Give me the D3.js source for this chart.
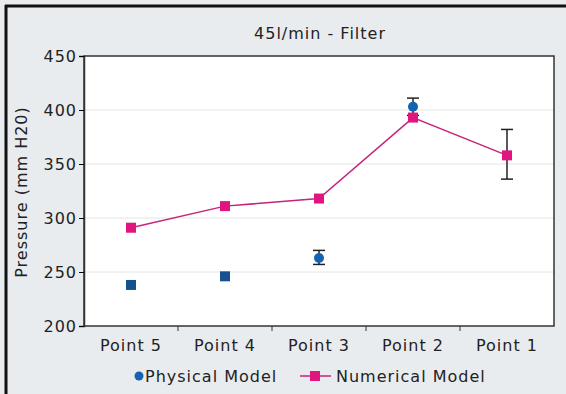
<!DOCTYPE html>
<html>
<head>
<meta charset="utf-8">
<script src="https://cdn.jsdelivr.net/npm/d3@7"></script>
<style>
  body { margin: 0; background: #e9ecef; }
  svg { display: block; font-family: "DejaVu Sans", sans-serif; }
  .lbl { font-size: 16px; fill: #222; letter-spacing: 1px; }
</style>
</head>
<body>
<svg id="chart" width="566" height="394"></svg>
<script>
// chart data
var categories = ["Point 5", "Point 4", "Point 3", "Point 2", "Point 1"];
var numerical = [291, 311, 318, 393, 358];
var numericalErr = [null, null, null, null, [336, 382]];
var physical = [238, 246, 263, 403, null];
var physicalErr = [null, null, [257, 270], [395, 411], null];
var yTicks = [200, 250, 300, 350, 400, 450];

var margin = {top: 56, right: 12, bottom: 68, left: 84},
    width = 566 - margin.left - margin.right,
    height = 394 - margin.top - margin.bottom;

var svg = d3.select("#chart");

// outer frame (top + left only, image looks cropped)
svg.append("line").attr("x1", 5).attr("x2", 566).attr("y1", 6).attr("y2", 6)
  .attr("stroke", "#111").attr("stroke-width", 3);
svg.append("line").attr("x1", 6).attr("x2", 6).attr("y1", 5).attr("y2", 394)
  .attr("stroke", "#111").attr("stroke-width", 3);

svg.append("text")
  .attr("class", "lbl")
  .attr("x", 320).attr("y", 39)
  .attr("text-anchor", "middle")
  .text("45l/min - Filter");

var g = svg.append("g")
  .attr("transform", "translate(" + margin.left + "," + margin.top + ")");

var x = d3.scaleBand().domain(categories).range([0, width]);
var y = d3.scaleLinear().domain([200, 450]).range([height, 0]);

g.append("rect").attr("width", width).attr("height", height).attr("fill", "#fff");

// grid
g.selectAll(".grid").data(yTicks.slice(1, -1)).enter().append("line")
  .attr("x1", 0).attr("x2", width)
  .attr("y1", function(d) { return y(d); }).attr("y2", function(d) { return y(d); })
  .attr("stroke", "#e4e4e4").attr("stroke-width", 1);

g.append("rect").attr("width", width).attr("height", height)
  .attr("fill", "none").attr("stroke", "#333").attr("stroke-width", 1.5);

// axes
var yAxis = g.append("g").call(d3.axisLeft(y).tickValues(yTicks).tickSize(5).tickPadding(2));
yAxis.select(".domain").attr("stroke", "#333").attr("stroke-width", 1.5);
yAxis.selectAll("text").attr("class", "lbl").attr("font-size", null).attr("font-family", null);

var xAxis = g.append("g")
  .attr("transform", "translate(0," + height + ")")
  .call(d3.axisBottom(x).tickSize(0).tickPadding(14));
xAxis.select(".domain").remove();
xAxis.selectAll("text").attr("class", "lbl");
xAxis.attr("font-size", null).attr("font-family", null);
yAxis.attr("font-size", null).attr("font-family", null);
// ticks between categories
g.selectAll(".sep").data(categories.slice(1)).enter().append("line")
  .attr("x1", function(d) { return x(d); }).attr("x2", function(d) { return x(d); })
  .attr("y1", height).attr("y2", height + 5)
  .attr("stroke", "#333");

svg.append("text")
  .attr("class", "lbl")
  .attr("transform", "translate(27," + 192 + ") rotate(-90)")
  .attr("text-anchor", "middle")
  .text("Pressure (mm H20)");

function cx(i) { return x(categories[i]) + x.bandwidth() / 2; }

function errBar(err, i, color) {
  if (!err) return;
  var gx = cx(i);
  g.append("line").attr("x1", gx).attr("x2", gx)
    .attr("y1", y(err[0])).attr("y2", y(err[1])).attr("stroke", color).attr("stroke-width", 1.5);
  [err[0], err[1]].forEach(function(v) {
    g.append("line").attr("x1", gx - 6).attr("x2", gx + 6)
      .attr("y1", y(v)).attr("y2", y(v)).attr("stroke", color).attr("stroke-width", 1.5);
  });
}

// numerical model line
var line = d3.line().x(function(d, i) { return cx(i); }).y(function(d) { return y(d); });
g.append("path").datum(numerical).attr("d", line)
  .attr("fill", "none").attr("stroke", "#c8237a").attr("stroke-width", 1.5);

numericalErr.forEach(function(e, i) { errBar(e, i, "#222"); });
physicalErr.forEach(function(e, i) { errBar(e, i, "#222"); });

g.selectAll(".num").data(numerical).enter().append("rect")
  .attr("x", function(d, i) { return cx(i) - 5; })
  .attr("y", function(d) { return y(d) - 5; })
  .attr("width", 10).attr("height", 10)
  .attr("fill", "#e0157f");

physical.forEach(function(d, i) {
  if (d == null) return;
  if (physicalErr[i]) {
    g.append("circle").attr("cx", cx(i)).attr("cy", y(d)).attr("r", 5)
      .attr("fill", "#1463b3");
  } else {
    g.append("rect").attr("x", cx(i) - 5).attr("y", y(d) - 5)
      .attr("width", 10).attr("height", 10).attr("fill", "#17508f");
  }
});

// legend
var lg = svg.append("g").attr("transform", "translate(0,382)");
lg.append("circle").attr("cx", 139).attr("cy", -6).attr("r", 4.5).attr("fill", "#1463b3");
lg.append("text").attr("class", "lbl").attr("x", 145).attr("y", 0).text("Physical Model");
lg.append("line").attr("x1", 300).attr("x2", 331).attr("y1", -6).attr("y2", -6)
  .attr("stroke", "#c8237a").attr("stroke-width", 1.5);
lg.append("rect").attr("x", 310).attr("y", -11).attr("width", 10).attr("height", 10).attr("fill", "#e0157f");
lg.append("text").attr("class", "lbl").attr("x", 336).attr("y", 0).text("Numerical Model");
</script>
</body>
</html>
